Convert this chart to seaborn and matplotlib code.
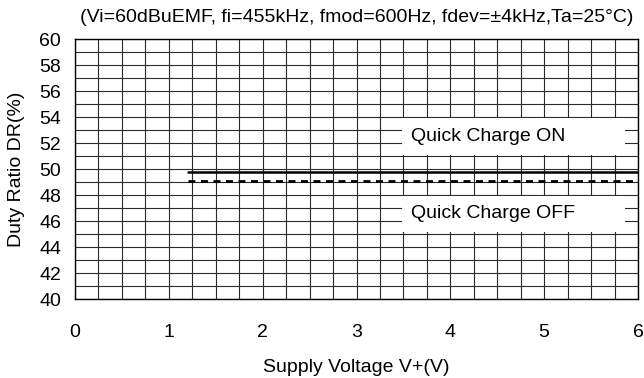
import matplotlib
matplotlib.use("Agg")
import matplotlib.pyplot as plt
from matplotlib.patches import Rectangle
import numpy as np
import pandas as pd
import seaborn as sns

# Duty ratio vs. supply voltage
voltage = [1.2, 2.0, 3.0, 4.0, 5.0, 6.0]
duty_on = [49.8, 49.8, 49.8, 49.8, 49.8, 49.8]
duty_off = [49.1, 49.1, 49.1, 49.1, 49.1, 49.1]
x_ticks = [0, 1, 2, 3, 4, 5, 6]
y_ticks = [40, 42, 44, 46, 48, 50, 52, 54, 56, 58, 60]
title = "(Vi=60dBuEMF, fi=455kHz, fmod=600Hz, fdev=\u00b14kHz,Ta=25\u00b0C)"

sns.set_style("white")
plt.rcParams["font.family"] = ["Liberation Sans", "DejaVu Sans"]
plt.rcParams["text.color"] = "black"
plt.rcParams["axes.labelcolor"] = "black"
plt.rcParams["xtick.color"] = "black"
plt.rcParams["ytick.color"] = "black"
FS = 14

df = pd.DataFrame({"V": voltage + voltage,
                   "DR": duty_on + duty_off,
                   "mode": ["ON"] * len(voltage) + ["OFF"] * len(voltage)})

fig = plt.figure(figsize=(6.44, 3.78), dpi=100)
ax = fig.add_axes([75 / 644, 1 - 299 / 378, 563 / 644, 260 / 378])

sns.lineplot(data=df[df["mode"] == "ON"], x="V", y="DR", ax=ax,
             color="black", lw=1.8, zorder=3)
sns.lineplot(data=df[df["mode"] == "OFF"], x="V", y="DR", ax=ax,
             color="black", lw=2.0, ls=(0, (2.5, 2.0)), zorder=3)

ax.set_xlim(0, 6)
ax.set_ylim(40, 60)
ax.set_xticks(x_ticks)
ax.set_yticks(y_ticks)
ax.set_xticks(np.arange(0, 6.01, 0.25), minor=True)
ax.set_yticks(np.arange(40, 60.01, 1), minor=True)
ax.set_axisbelow(True)
ax.grid(which="both", color="#2a2a2a", lw=0.8, zorder=0.5)
ax.tick_params(which="major", direction="in", length=5, width=1.2,
               color="black", labelcolor="black", labelsize=FS)
ax.tick_params(which="minor", length=0)
ax.tick_params(axis="x", pad=18)
ax.tick_params(axis="y", pad=10)
for s in ax.spines.values():
    s.set_color("black")
    s.set_linewidth(1.0)

ax.set_xlabel("Supply Voltage V+(V)", fontsize=FS, labelpad=13, color="black")
ax.set_ylabel("Duty Ratio DR(%)", fontsize=FS, labelpad=10, color="black")
fig.text(0.5 * (75 + 638) / 644, 1 - 18 / 378, title, fontsize=FS,
         ha="center", va="center", color="black")

# white label panels over the grid
for y0, label in [(51.1, "Quick Charge ON"), (45.15, "Quick Charge OFF")]:
    ax.add_patch(Rectangle((3.48, y0), 2.38, 2.8, facecolor="white",
                           edgecolor="none", zorder=1))
    ax.text(3.58, y0 + 1.4, label, fontsize=FS, va="center", ha="left",
            color="black", zorder=2)

fig.savefig("out.png", dpi=100)
